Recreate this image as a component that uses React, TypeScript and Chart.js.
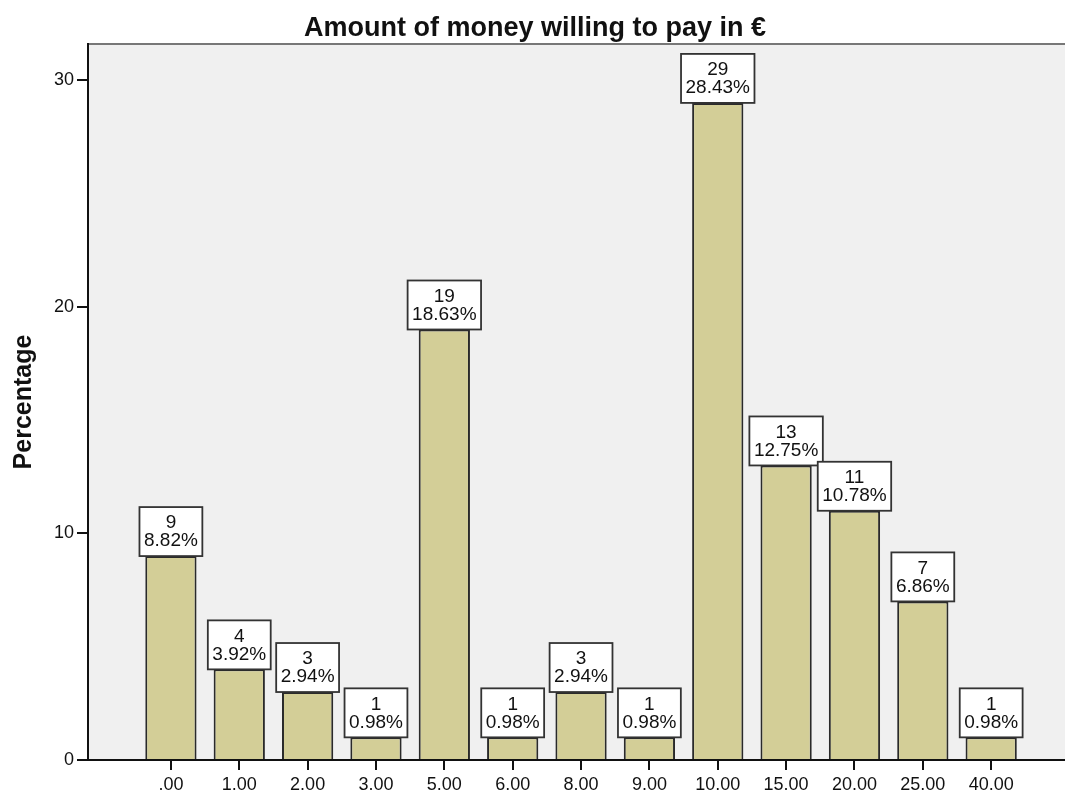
import React, { useEffect, useRef } from "react";
import { Chart, registerables } from "chart.js";

Chart.register(...registerables);

const categories = [".00", "1.00", "2.00", "3.00", "5.00", "6.00", "8.00", "9.00", "10.00", "15.00", "20.00", "25.00", "40.00"];
const counts = [9, 4, 3, 1, 19, 1, 3, 1, 29, 13, 11, 7, 1];
const percents = ["8.82%", "3.92%", "2.94%", "0.98%", "18.63%", "0.98%", "2.94%", "0.98%", "28.43%", "12.75%", "10.78%", "6.86%", "0.98%"];
const yTicks = [0, 10, 20, 30];
const titleText = "Amount of money willing to pay in €";
const yTitle = "Percentage";

const FONT = "'Liberation Sans', Arial, sans-serif";

export default function App() {
  const ref = useRef<HTMLCanvasElement | null>(null);

  useEffect(() => {
    if (!ref.current) return;

    const bgPlugin = {
      id: "bgPlugin",
      beforeDraw(chart: any) {
        const { ctx, chartArea } = chart;
        ctx.save();
        ctx.fillStyle = "#ffffff";
        ctx.fillRect(0, 0, chart.width, chart.height);
        ctx.fillStyle = "#f0f0f0";
        ctx.fillRect(chartArea.left, chartArea.top, chartArea.right - chartArea.left, chartArea.bottom - chartArea.top);
        ctx.strokeStyle = "#777777";
        ctx.lineWidth = 2;
        ctx.beginPath();
        ctx.moveTo(chartArea.left, chartArea.top);
        ctx.lineTo(chartArea.right, chartArea.top);
        ctx.stroke();
        ctx.fillStyle = "#111111";
        ctx.font = `bold 27px ${FONT}`;
        ctx.textAlign = "center";
        ctx.textBaseline = "alphabetic";
        ctx.fillText(titleText, 535, 36);
        ctx.restore();
      },
      afterDraw(chart: any) {
        const { ctx, chartArea } = chart;
        const xs = chart.scales.x;
        ctx.save();
        ctx.strokeStyle = "#111111";
        ctx.lineWidth = 2;
        categories.forEach((_, i) => {
          const px = Math.round(xs.getPixelForValue(i));
          ctx.beginPath();
          ctx.moveTo(px, chartArea.bottom);
          ctx.lineTo(px, chartArea.bottom + 10);
          ctx.stroke();
        });
        ctx.restore();
      },
    };

    const labelPlugin = {
      id: "labelPlugin",
      afterDatasetsDraw(chart: any) {
        const { ctx } = chart;
        const meta = chart.getDatasetMeta(0);
        ctx.save();
        ctx.font = `19px ${FONT}`;
        meta.data.forEach((el: any, i: number) => {
          const l1 = String(counts[i]);
          const l2 = percents[i];
          const w = Math.max(ctx.measureText(l1).width, ctx.measureText(l2).width) + 9;
          const h = 49;
          const x = el.x - w / 2;
          const y = el.y - h;
          ctx.fillStyle = "#ffffff";
          ctx.fillRect(x, y, w, h);
          ctx.strokeStyle = "#333333";
          ctx.lineWidth = 1.8;
          ctx.strokeRect(x, y, w, h);
          ctx.fillStyle = "#111111";
          ctx.textAlign = "center";
          ctx.textBaseline = "middle";
          ctx.fillText(l1, el.x, el.y - 33);
          ctx.fillText(l2, el.x, el.y - 15);
        });
        ctx.restore();
      },
    };

    const chart = new Chart(ref.current, {
      type: "bar",
      data: {
        datasets: [
          {
            data: counts.map((c, i) => ({ x: i, y: c })),
            backgroundColor: "#d3ce97",
            borderColor: "#2a2a2a",
            borderWidth: 2,
            barPercentage: 0.75,
            categoryPercentage: 1,
          },
        ],
      },
      options: {
        animation: false,
        responsive: true,
        maintainAspectRatio: false,
        layout: { padding: { top: 44, left: 0, right: 0, bottom: 0 } },
        plugins: {
          legend: { display: false },
          title: { display: false },
          tooltip: { enabled: false },
        },
        scales: {
          x: {
            type: "linear",
            offset: false,
            min: -1.213,
            max: 13.08,
            afterBuildTicks: (s: any) => {
              s.ticks = categories.map((_, i) => ({ value: i }));
            },
            afterFit: (s: any) => {
              s.height = 32;
            },
            ticks: {
              callback: (v: any) => categories[Math.round(Number(v))] ?? "",
              autoSkip: false,
              maxRotation: 0,
              color: "#111111",
              font: { size: 18, family: FONT },
              padding: 4,
            },
            grid: { offset: false, drawOnChartArea: false, drawTicks: true, tickLength: 10, color: "#111111", lineWidth: 2 },
            border: { color: "#111111", width: 2 },
          },
          y: {
            min: 0,
            max: 31.6,
            afterBuildTicks: (s: any) => {
              s.ticks = yTicks.map((v) => ({ value: v }));
            },
            afterFit: (s: any) => {
              s.width = 88;
            },
            ticks: {
              color: "#111111",
              font: { size: 18, family: FONT },
              padding: 3,
            },
            grid: { drawOnChartArea: false, drawTicks: true, tickLength: 11, color: "#111111", lineWidth: 2 },
            border: { color: "#111111", width: 2 },
            title: {
              display: true,
              text: yTitle,
              color: "#111111",
              font: { size: 25, weight: "bold", family: FONT },
              padding: { top: 9, bottom: 0 },
            },
          },
        },
      },
      plugins: [bgPlugin, labelPlugin],
    } as any);

    return () => chart.destroy();
  }, []);

  return (
    <div style={{ position: "absolute", left: 0, top: 0, width: 1065, height: 792 }}>
      <canvas ref={ref} />
    </div>
  );
}
